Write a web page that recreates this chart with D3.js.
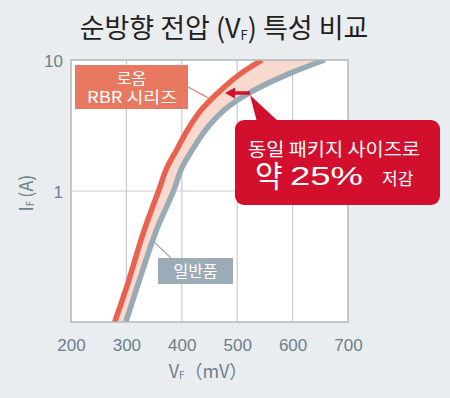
<!DOCTYPE html>
<html><head><meta charset="utf-8">
<script src="https://cdn.jsdelivr.net/npm/d3@7"></script>
<style>
html,body{margin:0;padding:0;background:#e9edf0;}
svg{display:block;}
text{font-family:'Liberation Sans','Noto Sans CJK KR',sans-serif;}
.kr{font-family:'Noto Sans CJK KR','Liberation Sans',sans-serif;}
</style></head>
<body>
<svg id="c" width="450" height="398"></svg>
<script>
// ---- data ----
const currents  = [0.1, 0.2, 0.5, 1, 1.5, 2, 3, 4.2, 5.7, 7.8, 10];        // IF (A)
const rbrVF     = [279, 303, 332, 358, 373, 389, 412, 436, 467, 505, 545];  // 로옴 RBR 시리즈 (mV)
const generalVF = [299, 322, 354, 385, 400, 417, 445, 478, 525, 592, 658];  // 일반품 (mV)
const xTicks = [200, 300, 400, 500, 600, 700];
const yTicks = [1, 10];
const arrowCurrent = 5.6, arrowFromVF = 523, arrowToVF = 478;

const svg = d3.select('#c');
const x = d3.scaleLinear().domain([200, 700]).range([71, 348]);
const y = d3.scaleLog().domain([0.1, 10]).range([322, 60]);
const [L, R] = x.range(), [B, T] = y.range();
const tickCol = '#6c7f8a';

// title
const title = svg.append('text').attr('class','kr').attr('x', 224).attr('y', 38)
  .attr('text-anchor','middle').attr('font-size', 27).attr('fill','#231f20');
title.append('tspan').text('순방향 전압 (V');
title.append('tspan').attr('font-size', 13).attr('dy', 2).text('F');
title.append('tspan').attr('dy', -2).text(') 특성 비교');

// plot background
svg.append('rect').attr('x', L).attr('y', T).attr('width', R - L).attr('height', B - T).attr('fill', '#fff');

// grid
svg.append('g').selectAll('line').data(xTicks.slice(1, -1)).join('line')
  .attr('x1', d => x(d)).attr('x2', d => x(d)).attr('y1', T).attr('y2', B)
  .attr('stroke', '#c9cbcd').attr('stroke-width', 1.2);
svg.append('g').selectAll('line').data([1]).join('line')
  .attr('y1', d => y(d)).attr('y2', d => y(d)).attr('x1', L).attr('x2', R)
  .attr('stroke', '#c9cbcd').attr('stroke-width', 1.2);

// clip
svg.append('clipPath').attr('id','clip').append('rect')
  .attr('x', L).attr('y', T).attr('width', R - L).attr('height', B - T);

const rows = currents.map((c, i) => ({i: c, r: rbrVF[i], g: generalVF[i]}));
const curve = d3.curveCatmullRom.alpha(0.5);
const area = d3.area().y(d => y(d.i)).x0(d => x(d.r)).x1(d => x(d.g)).curve(curve);
const lineR = d3.line().y(d => y(d.i)).x(d => x(d.r)).curve(curve);
const lineG = d3.line().y(d => y(d.i)).x(d => x(d.g)).curve(curve);
const gc = svg.append('g').attr('clip-path','url(#clip)');
gc.append('path').attr('d', area(rows)).attr('fill', '#f9d8ce');
gc.append('path').attr('d', lineG(rows)).attr('fill','none').attr('stroke','#98abb5').attr('stroke-width', 5.5);
gc.append('path').attr('d', lineR(rows)).attr('fill','none').attr('stroke','#e8634f').attr('stroke-width', 5.5);

// border
svg.append('rect').attr('x', L).attr('y', T).attr('width', R - L).attr('height', B - T)
  .attr('fill','none').attr('stroke','#b3b6b9').attr('stroke-width', 1.5);

// axes
const xAxis = svg.append('g').attr('transform', `translate(0,${B})`)
  .call(d3.axisBottom(x).tickValues(xTicks).tickSize(0).tickPadding(17));
const yAxis = svg.append('g').attr('transform', `translate(${L},0)`)
  .call(d3.axisLeft(y).tickValues(yTicks).tickFormat(d3.format('d')).tickSize(0).tickPadding(8));
[xAxis, yAxis].forEach(a => {
  a.select('.domain').remove();
  a.selectAll('text').attr('font-size', 17).attr('fill', tickCol)
    .attr('font-family', "'Liberation Sans',sans-serif");
});
yAxis.selectAll('text').attr('dy', '0.36em');

// axis titles
const xt = svg.append('text').attr('class','kr').attr('x', 208).attr('y', 378)
  .attr('text-anchor','middle').attr('font-size', 18).attr('fill', tickCol);
xt.append('tspan').text('V');
xt.append('tspan').attr('font-size', 10).attr('dy', 1).text('F');
xt.append('tspan').attr('dy', -1).text('（mV）');

const yt = svg.append('text').attr('class','kr').attr('transform','translate(33,193) rotate(-90)')
  .attr('text-anchor','middle').attr('font-size', 18).attr('fill', tickCol);
yt.append('tspan').text('I');
yt.append('tspan').attr('font-size', 10).attr('dy', 1).text('F');
yt.append('tspan').attr('dy', -1).attr('dx', 3).text('(A)');

// RBR label
svg.append('line').attr('x1', 188).attr('y1', 87).attr('x2', 212).attr('y2', 100)
  .attr('stroke', '#e8785f').attr('stroke-width', 1.2);
svg.append('rect').attr('x', 75).attr('y', 65).attr('width', 113).attr('height', 44).attr('fill', '#e8785f');
svg.append('text').attr('class','kr').attr('x', 131.5).attr('y', 84).attr('text-anchor','middle')
  .attr('font-size', 16).attr('fill','#fff').text('로옴');
svg.append('text').attr('class','kr').attr('x', 87).attr('y', 103)
  .attr('font-size', 16).attr('fill','#fff')
  .attr('textLength', 90).attr('lengthAdjust', 'spacingAndGlyphs').text('RBR 시리즈');

// general label
svg.append('line').attr('x1', 153).attr('y1', 241).attr('x2', 171).attr('y2', 258)
  .attr('stroke', '#9cacb6').attr('stroke-width', 1.2);
svg.append('rect').attr('x', 158).attr('y', 258).attr('width', 75).attr('height', 26).attr('fill', '#9cacb6');
svg.append('text').attr('class','kr').attr('x', 195.5).attr('y', 277).attr('text-anchor','middle')
  .attr('font-size', 16).attr('fill','#fff').text('일반품');

// arrow between curves
const red = '#d2102e';
const ay = y(arrowCurrent), ax0 = x(arrowFromVF), ax1 = x(arrowToVF);
svg.append('line').attr('x1', ax0).attr('y1', ay).attr('x2', ax1 + 8).attr('y2', ay)
  .attr('stroke', red).attr('stroke-width', 3.5);
svg.append('path').attr('d', `M${ax1},${ay} L${ax1 + 10},${ay - 5.5} L${ax1 + 10},${ay + 5.5} Z`).attr('fill', red);

// callout
svg.append('path').attr('d', `M${ax0},${ay + 2} L257,122 L279,122 Z`).attr('fill', red);
svg.append('rect').attr('x', 235).attr('y', 120).attr('width', 205).attr('height', 85).attr('rx', 9).attr('fill', red);
svg.append('text').attr('class','kr').attr('x', 248).attr('y', 156)
  .attr('font-size', 18).attr('fill','#fff')
  .attr('textLength', 172).attr('lengthAdjust', 'spacingAndGlyphs').text('동일 패키지 사이즈로');
svg.append('text').attr('class','kr').attr('x', 255).attr('y', 187)
  .attr('font-size', 30).attr('fill','#fff').text('약');
svg.append('text').attr('x', 290).attr('y', 185)
  .attr('font-size', 26).attr('fill','#fff')
  .attr('textLength', 73).attr('lengthAdjust', 'spacingAndGlyphs').text('25%');
svg.append('text').attr('class','kr').attr('x', 382).attr('y', 185)
  .attr('font-size', 17).attr('fill','#fff').text('저감');
</script>
</body></html>
